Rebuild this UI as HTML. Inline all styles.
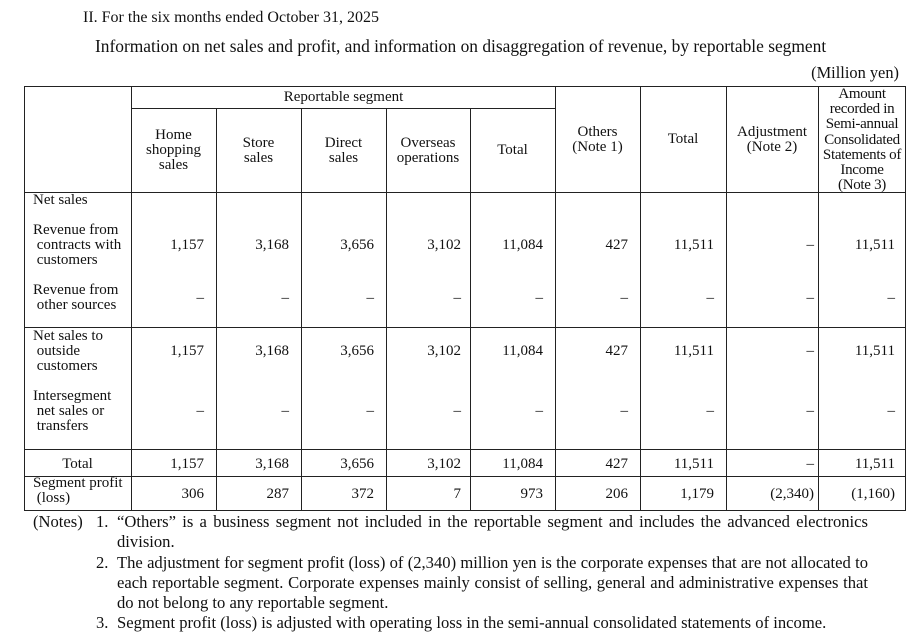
<!DOCTYPE html>
<html><head><meta charset="utf-8"><style>
body{margin:0;width:917px;height:639px;background:#fff;position:relative;font-family:"Liberation Serif",serif;color:#111;overflow:hidden}
.t{position:absolute;font-size:15px;line-height:15px;white-space:nowrap}
.c{text-align:center}
.r{text-align:right}
.h{position:absolute;height:1px;background:#222}
.v{position:absolute;width:1px;background:#222}
.n{position:absolute;font-size:16.6px;line-height:20.3px;white-space:nowrap}
.j{text-align:justify;text-align-last:justify;width:751px}
</style></head><body>
<div class="n" style="left:83px;top:8px;font-size:16px">II. For the six months ended October 31, 2025</div>
<div class="n" style="left:95px;top:36px;font-size:17.4px">Information on net sales and profit, and information on disaggregation of revenue, by reportable segment</div>
<div class="n" style="right:18px;top:63px;font-size:16.4px">(Million yen)</div>

<div class="h" style="left:24px;width:882px;top:86px"></div>
<div class="h" style="left:131px;width:425px;top:108px"></div>
<div class="h" style="left:24px;width:882px;top:192px"></div>
<div class="h" style="left:24px;width:882px;top:327px"></div>
<div class="h" style="left:24px;width:882px;top:449px"></div>
<div class="h" style="left:24px;width:882px;top:476px"></div>
<div class="h" style="left:24px;width:882px;top:510px"></div>
<div class="v" style="left:24px;top:86px;height:425px"></div>
<div class="v" style="left:131px;top:86px;height:425px"></div>
<div class="v" style="left:216px;top:108px;height:403px"></div>
<div class="v" style="left:301px;top:108px;height:403px"></div>
<div class="v" style="left:386px;top:108px;height:403px"></div>
<div class="v" style="left:470px;top:108px;height:403px"></div>
<div class="v" style="left:555px;top:86px;height:425px"></div>
<div class="v" style="left:640px;top:86px;height:425px"></div>
<div class="v" style="left:726px;top:86px;height:425px"></div>
<div class="v" style="left:818px;top:86px;height:425px"></div>
<div class="v" style="left:905px;top:86px;height:425px"></div>

<div class="t c" style="left:131px;width:425px;top:90px">Reportable segment</div>
<div class="t c" style="left:131px;width:85px;top:128px">Home<br>shopping<br>sales</div>
<div class="t c" style="left:216px;width:85px;top:136px">Store<br>sales</div>
<div class="t c" style="left:301px;width:85px;top:136px">Direct<br>sales</div>
<div class="t c" style="left:386px;width:84px;top:136px">Overseas<br>operations</div>
<div class="t c" style="left:470px;width:85px;top:143px">Total</div>
<div class="t c" style="left:555px;width:85px;top:125px">Others<br>(Note 1)</div>
<div class="t c" style="left:640px;width:86px;top:132px">Total</div>
<div class="t c" style="left:726px;width:92px;top:125px">Adjustment<br>(Note 2)</div>
<div class="t c" style="left:818px;width:88px;top:87px;line-height:15.2px;letter-spacing:-0.3px">Amount<br>recorded in<br>Semi-annual<br>Consolidated<br>Statements of<br>Income<br>(Note 3)</div>

<div class="t" style="left:33px;top:193px">Net sales</div>
<div class="t" style="left:33px;top:223px">Revenue from<br>&nbsp;contracts with<br>&nbsp;customers</div>
<div class="t" style="left:33px;top:283px">Revenue from<br>&nbsp;other sources</div>
<div class="t" style="left:33px;top:329px">Net sales to<br>&nbsp;outside<br>&nbsp;customers</div>
<div class="t" style="left:33px;top:389px">Intersegment<br>&nbsp;net sales or<br>&nbsp;transfers</div>
<div class="t c" style="left:24px;width:107px;top:457px">Total</div>
<div class="t" style="left:33px;top:476px">Segment profit<br>&nbsp;(loss)</div>

<div id="vals"></div>
<script>
var cols=[[131,216,12],[216,301,12],[301,386,12],[386,470,9],[470,555,12],[555,640,12],[640,726,12],[726,818,4],[818,905,10]];
var rows=[
[238,["1,157","3,168","3,656","3,102","11,084","427","11,511","–","11,511"]],
[291,["–","–","–","–","–","–","–","–","–"]],
[344,["1,157","3,168","3,656","3,102","11,084","427","11,511","–","11,511"]],
[404,["–","–","–","–","–","–","–","–","–"]],
[457,["1,157","3,168","3,656","3,102","11,084","427","11,511","–","11,511"]],
[487,["306","287","372","7","973","206","1,179","(2,340)","(1,160)"]]];
var h="";
rows.forEach(function(r){r[1].forEach(function(v,i){var c=cols[i];
h+='<div class="t r" style="left:'+c[0]+'px;width:'+(c[1]-c[0]-c[2])+'px;top:'+r[0]+'px">'+v+'</div>';});});
document.getElementById("vals").innerHTML=h;
</script>

<div class="n" style="left:33px;top:512px">(Notes)</div>
<div class="n" style="left:96px;top:512px">1.</div>
<div class="n j" style="left:117px;top:512px">“Others” is a business segment not included in the reportable segment and includes the advanced electronics</div>
<div class="n" style="left:117px;top:532px">division.</div>
<div class="n" style="left:96px;top:553px">2.</div>
<div class="n j" style="left:117px;top:553px">The adjustment for segment profit (loss) of (2,340) million yen is the corporate expenses that are not allocated to</div>
<div class="n j" style="left:117px;top:573px">each reportable segment. Corporate expenses mainly consist of selling, general and administrative expenses that</div>
<div class="n" style="left:117px;top:593px">do not belong to any reportable segment.</div>
<div class="n" style="left:96px;top:613px">3.</div>
<div class="n" style="left:117px;top:613px">Segment profit (loss) is adjusted with operating loss in the semi-annual consolidated statements of income.</div>
</body></html>
